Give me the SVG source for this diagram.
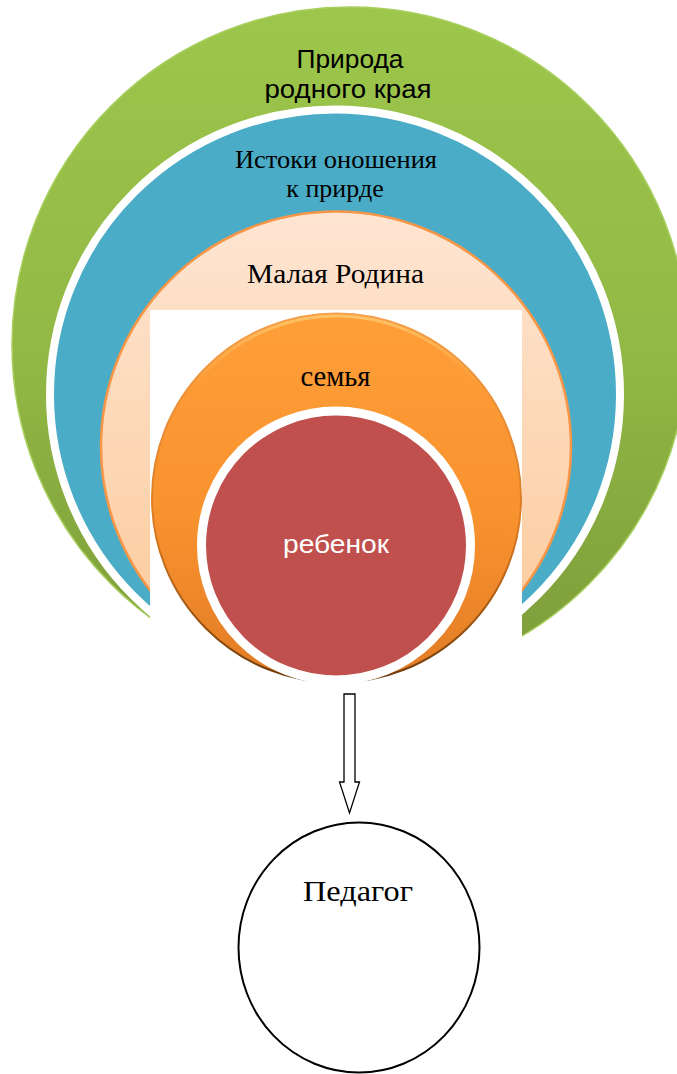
<svg xmlns="http://www.w3.org/2000/svg" width="677" height="1074" viewBox="0 0 677 1074">
  <style>
    .sans { font-family: "Liberation Sans", Arial, sans-serif; text-anchor: middle; }
    .serif { font-family: "Liberation Serif", "Times New Roman", serif; text-anchor: middle; fill: #000; }
  </style>
  <defs>
    <linearGradient id="gGreen" x1="0" y1="0" x2="0" y2="1">
      <stop offset="0" stop-color="#9dc64c"/>
      <stop offset="0.5" stop-color="#92b945"/>
      <stop offset="1" stop-color="#7c9b39"/>
    </linearGradient>
    <linearGradient id="gPeach" x1="0" y1="0" x2="0" y2="1">
      <stop offset="0" stop-color="#fee5d2"/>
      <stop offset="1" stop-color="#fcc998"/>
    </linearGradient>
    <linearGradient id="gOrange" x1="0" y1="0" x2="0" y2="1">
      <stop offset="0" stop-color="#ff9f38"/>
      <stop offset="0.55" stop-color="#f8922f"/>
      <stop offset="1" stop-color="#e27c25"/>
    </linearGradient>
    <linearGradient id="gOrangeEdge" x1="0" y1="0" x2="0" y2="1">
      <stop offset="0" stop-color="#f5a04a"/>
      <stop offset="0.6" stop-color="#d9781f"/>
      <stop offset="1" stop-color="#6b3a0c"/>
    </linearGradient>
    <linearGradient id="gRim" x1="0" y1="0" x2="0" y2="1">
      <stop offset="0" stop-color="#ffd27a" stop-opacity="0.7"/>
      <stop offset="0.2" stop-color="#ffc060" stop-opacity="0"/>
      <stop offset="1" stop-color="#ffc060" stop-opacity="0"/>
    </linearGradient>
  </defs>

  <g id="node-priroda">
    <circle cx="350" cy="345" r="338" fill="url(#gGreen)" stroke="#a8cf5e" stroke-width="1.5"/>
    <text class="sans" x="350" y="68" font-size="26" fill="#000" textLength="107" lengthAdjust="spacingAndGlyphs">Природа</text>
    <text class="sans" x="348" y="98" font-size="26" fill="#000" textLength="167" lengthAdjust="spacingAndGlyphs">родного края</text>
  </g>

  <g id="node-istoki">
    <circle cx="335" cy="394.5" r="285" fill="#4aacc6" stroke="#ffffff" stroke-width="8"/>
    <text class="serif" x="336" y="168" font-size="26" textLength="202" lengthAdjust="spacingAndGlyphs">Истоки оношения</text>
    <text class="serif" x="335" y="197" font-size="26">к прирде</text>
  </g>

  <g id="node-rodina">
    <circle cx="336" cy="446.5" r="235" fill="url(#gPeach)" stroke="#f79646" stroke-width="2.5"/>
    <text class="serif" x="335.5" y="283" font-size="28" textLength="177" lengthAdjust="spacingAndGlyphs">Малая Родина</text>
  </g>

  <rect id="cutout" x="150" y="310" width="372" height="380" fill="#ffffff"/>

  <g id="node-semya">
    <circle cx="336.5" cy="498" r="184.5" fill="url(#gOrange)" stroke="url(#gOrangeEdge)" stroke-width="2"/>
    <circle cx="336.5" cy="498" r="182" fill="none" stroke="url(#gRim)" stroke-width="3"/>
    <text class="serif" x="335.5" y="386" font-size="30" textLength="70" lengthAdjust="spacingAndGlyphs">семья</text>
  </g>

  <g id="node-rebenok">
    <circle cx="336" cy="545.5" r="134.5" fill="#c0504d" stroke="#ffffff" stroke-width="9"/>
    <text class="sans" x="336" y="553" font-size="26" fill="#ffffff" textLength="106" lengthAdjust="spacingAndGlyphs">ребенок</text>
  </g>

  <g id="connectors">
    <path d="M344,694 L355,694 L355,782 L359.5,782 L349.5,813 L339.5,782 L344,782 Z" fill="#ffffff" stroke="#000000" stroke-width="1.3" stroke-linejoin="miter"/>
  </g>

  <g id="node-pedagog">
    <ellipse cx="359" cy="947.5" rx="120.5" ry="125" fill="#ffffff" stroke="#000000" stroke-width="2"/>
    <text class="serif" x="358" y="901" font-size="29" textLength="110" lengthAdjust="spacingAndGlyphs">Педагог</text>
  </g>
</svg>
